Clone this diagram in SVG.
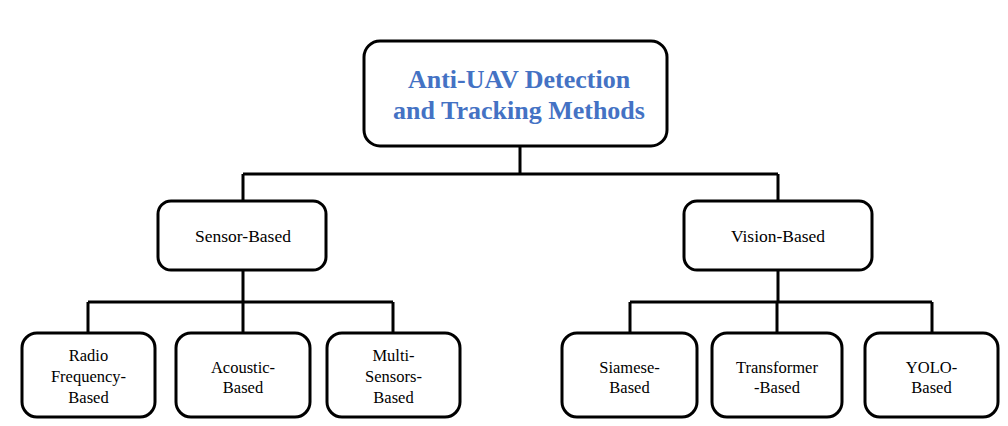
<svg xmlns="http://www.w3.org/2000/svg" width="1008" height="426" viewBox="0 0 1008 426">
<style>
.box{fill:#fff;stroke:#000;stroke-width:3}
.t{font-family:'Liberation Serif','Times New Roman','DejaVu Serif',serif;font-size:16.5px;fill:#000;text-anchor:middle}
.m{font-size:17.5px}
.title{font-family:'Liberation Serif','Times New Roman','DejaVu Serif',serif;font-size:26px;font-weight:bold;fill:#4472C4;text-anchor:middle}
.c{fill:none;stroke:#000;stroke-width:3}
</style>
<rect width="1008" height="426" fill="#fff"/>
<g id="connectors">
<path class="c" d="M520 146V174M243 174H778M243 174V201M778 174V201"/>
<path class="c" d="M243 270V302M88 302H393M88 302V333M243 302V333M393 302V333"/>
<path class="c" d="M778 270V302M630 302H932M630 302V333M777 302V333M932 302V333"/>
</g>
<g id="root">
<rect class="box" x="364" y="41" width="303" height="105" rx="16"/>
<text class="title" x="519" y="88">Anti-UAV Detection</text>
<text class="title" x="519" y="119">and Tracking Methods</text>
</g>
<g id="sensor">
<rect class="box" x="158" y="201" width="168" height="69" rx="13"/>
<text class="t m" x="243" y="242">Sensor-Based</text>
</g>
<g id="vision">
<rect class="box" x="684" y="201" width="188" height="69" rx="13"/>
<text class="t m" x="778" y="242">Vision-Based</text>
</g>
<g id="radio">
<rect class="box" x="22" y="333" width="133" height="84" rx="15"/>
<text class="t" x="88.5" y="361">Radio</text>
<text class="t" x="88.5" y="382">Frequency-</text>
<text class="t" x="88.5" y="403">Based</text>
</g>
<g id="acoustic">
<rect class="box" x="176" y="333" width="134" height="84" rx="15"/>
<text class="t" x="243" y="373">Acoustic-</text>
<text class="t" x="243" y="393">Based</text>
</g>
<g id="multi">
<rect class="box" x="327" y="333" width="133" height="84" rx="15"/>
<text class="t" x="393.5" y="361">Multi-</text>
<text class="t" x="393.5" y="382">Sensors-</text>
<text class="t" x="393.5" y="403">Based</text>
</g>
<g id="siamese">
<rect class="box" x="562" y="333" width="135" height="84" rx="15"/>
<text class="t" x="629.5" y="373">Siamese-</text>
<text class="t" x="629.5" y="393">Based</text>
</g>
<g id="transformer">
<rect class="box" x="712" y="333" width="130" height="84" rx="15"/>
<text class="t" x="777" y="373">Transformer</text>
<text class="t" x="777" y="393">-Based</text>
</g>
<g id="yolo">
<rect class="box" x="865" y="333" width="133" height="84" rx="15"/>
<text class="t" x="931.5" y="373">YOLO-</text>
<text class="t" x="931.5" y="393">Based</text>
</g>
</svg>
